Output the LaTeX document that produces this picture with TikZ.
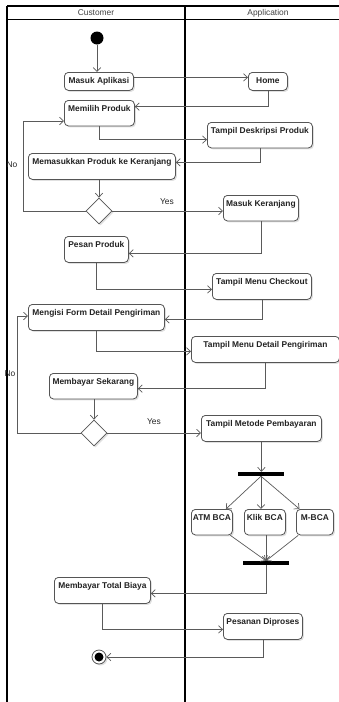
\documentclass[tikz,border=0pt]{standalone}
\usepackage{fontspec}
\setmainfont{Liberation Sans}
\usetikzlibrary{arrows.meta,shapes.geometric,shadows}
\definecolor{edgegray}{HTML}{5A5A5A}
\definecolor{boxline}{HTML}{555555}
\definecolor{labeltext}{HTML}{222222}

\begin{document}
\begin{tikzpicture}[x=1pt,y=-1pt,
  font=\fontsize{8.4}{10}\selectfont,
  softshadow/.style={drop shadow={shadow xshift=1.5pt,shadow yshift=-1.5pt,fill=black,opacity=0.12}},
  act/.style={draw=boxline,line width=0.8pt,rounded corners=4pt,fill=white,softshadow,
    anchor=north west,inner xsep=0pt,inner ysep=0pt,text height=11pt,text depth=#1,
    font=\fontsize{8.4}{10}\selectfont\bfseries,text=labeltext},
  act/.default=14.5pt,
  decision/.style={diamond,aspect=1,draw=boxline,line width=0.8pt,fill=white,softshadow,
    minimum width=26pt,minimum height=26pt,inner sep=0pt},
  flow/.style={draw=edgegray,line width=0.7pt,-{Straight Barb[length=4pt,width=7.5pt]}},
  lane/.style={draw=black,line width=1.4pt},
  bar/.style={fill=black,inner sep=0pt,minimum height=4pt,minimum width=46pt},
  guard/.style={text=labeltext,inner sep=0pt},
  header/.style={text=black!75,inner sep=0pt}]

\useasboundingbox (0,0) rectangle (339,702);

% swimlane frame
\draw[lane] (7,6) -- (339,6);
\draw[lane,line width=1pt] (7,19) -- (339,19);
\draw[lane,line width=1.8pt] (7,6) -- (7,702);
\draw[lane] (185,6) -- (185,702);
\node[header] (hcust) at (96,13) {Customer};
\node[header] (happ) at (268,13) {Application};

% initial node
\node[circle,fill=black,minimum size=13pt,inner sep=0pt] (start) at (97,38) {};

% activities
\node[act=7pt,minimum width=69pt]  (masuk)      at (64,72)   {Masuk Aplikasi};
\node[act=7pt,minimum width=39pt]  (home)       at (248,72)  {Home};
\node[act,minimum width=70pt]      (memilih)    at (64,100)  {Memilih Produk};
\node[act,minimum width=105pt]     (deskripsi)  at (207,122) {Tampil Deskripsi Produk};
\node[act=15pt,minimum width=147pt] (memasukkan) at (28,153) {Memasukkan Produk ke Keranjang};
\node[act,minimum width=75pt]      (keranjang)  at (223,195) {Masuk Keranjang};
\node[act=15pt,minimum width=64pt] (pesan)      at (64,236)  {Pesan Produk};
\node[act=15pt,minimum width=99pt] (checkout)   at (212,273) {Tampil Menu Checkout};
\node[act=15pt,minimum width=136pt] (mengisi)   at (28,304)  {Mengisi Form Detail Pengiriman};
\node[act=15pt,minimum width=148pt] (detail)    at (191,336) {Tampil Menu Detail Pengiriman};
\node[act,minimum width=88pt]      (membayar)   at (49,373)  {Membayar Sekarang};
\node[act=15pt,minimum width=120pt] (metode)    at (201,415) {Tampil Metode Pembayaran};
\node[act,minimum width=41pt]      (atm)        at (191,509) {ATM BCA};
\node[act,minimum width=41pt]      (klik)       at (244,509) {Klik BCA};
\node[act,minimum width=37pt]      (mbca)       at (296,509) {M-BCA};
\node[act=15pt,minimum width=96pt] (total)      at (54,577)  {Membayar Total Biaya};
\node[act=15pt,minimum width=79pt] (diproses)   at (223,613) {Pesanan Diproses};

% decisions
\node[decision] (dec1) at (99,211) {};
\node[decision] (dec2) at (94,433) {};

% fork and join bars
\node[bar] (fork) at (261,474) {};
\node[bar] (join) at (266,563) {};

% final node
\node[circle,draw=boxline,fill=white,line width=0.8pt,minimum size=14pt,inner sep=0pt,softshadow] (end) at (99,657) {};
\node[circle,fill=black,minimum size=9pt,inner sep=0pt] (endcore) at (end) {};

% loop-back corners
\coordinate (loop1) at (23,121);
\coordinate (loop2) at (17,316);

% control flow
\draw[flow] (start) -- (start |- masuk.north);
\draw[flow] ([yshift=4pt]masuk.east) -- ([yshift=4pt]home.west);
\draw[flow] (home.south) |- ([yshift=6.5pt]memilih.east);
\draw[flow] (memilih.south) |- ([yshift=-4.5pt]deskripsi.west);
\draw[flow] (deskripsi.south) |- ([yshift=4pt]memasukkan.east);
\draw[flow] (memasukkan.south -| dec1.north) -- (dec1.north);
\draw[flow] (dec1.east) -- (dec1.east -| keranjang.west);
\draw[flow] (dec1.west) -| (loop1) -- (loop1 -| memilih.west);
\draw[flow] (keranjang.south) |- ([yshift=-4pt]pesan.east);
\draw[flow] (pesan.south) |- ([yshift=-3pt]checkout.west);
\draw[flow] (checkout.south) |- ([yshift=-2pt]mengisi.east);
\draw[flow] (mengisi.south) |- ([yshift=-2pt]detail.west);
\draw[flow] (detail.south) |- ([yshift=-2.5pt]membayar.east);
\draw[flow] (membayar.south -| dec2.north) -- (dec2.north);
\draw[flow] (dec2.east) -- (dec2.east -| metode.west);
\draw[flow] (dec2.west) -| (loop2) -- (loop2 -| mengisi.west);
\draw[flow] (metode.south) -- (metode.south |- fork.north);
\draw[flow] (fork.south) -- (atm);
\draw[flow] (fork.south) -- (fork.south |- klik.north);
\draw[flow] (fork.south) -- (mbca);
\draw[flow] (atm) -- (join.north);
\draw[flow] (join.north |- klik.south) -- (join.north);
\draw[flow] (mbca) -- (join.north);
\draw[flow] (join.south) |- ([yshift=-3pt]total.east);
\draw[flow] (total.south) |- ([yshift=-3pt]diproses.west);
\draw[flow] (diproses.south) |- (end.east);

% guard labels
\node[guard] (no1)  at (12,165)  {No};
\node[guard] (yes1) at (167,202) {Yes};
\node[guard] (no2)  at (10,374)  {No};
\node[guard] (yes2) at (154,422) {Yes};

\end{tikzpicture}
\end{document}
